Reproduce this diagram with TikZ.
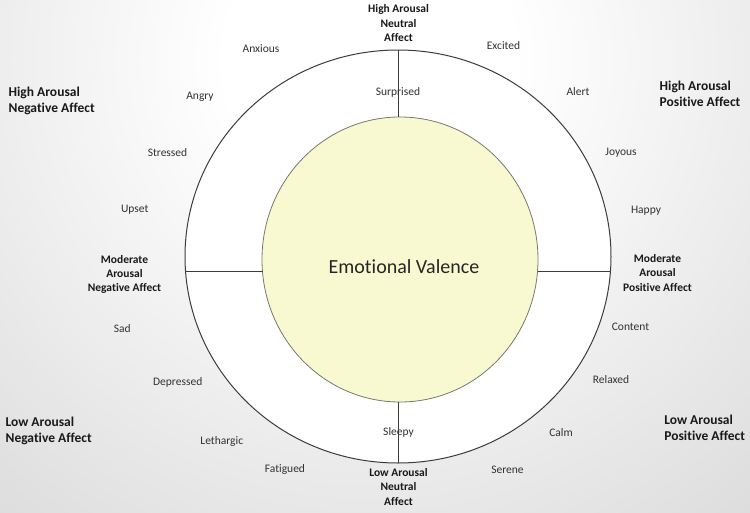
\documentclass[tikz,border=0pt]{standalone}
\usepackage{fontspec}
\setmainfont{Carlito}[Ligatures={NoCommon,NoContextual}]
\usetikzlibrary{shapes.geometric}
\definecolor{ringline}{RGB}{60,60,60}
\definecolor{innerline}{RGB}{120,120,110}
\definecolor{innerfill}{RGB}{248,249,208}
\definecolor{wordcol}{RGB}{50,50,50}
\definecolor{bgedge}{RGB}{200,200,200}
\pgfdeclareradialshading{bgshade}{\pgfpoint{0bp}{0bp}}{color(0bp)=(white); color(6bp)=(white); color(36bp)=(bgedge); color(50bp)=(bgedge)}
\tikzset{
  word/.style={inner sep=0pt, text=wordcol, font=\fontsize{11.5}{13.8}\selectfont},
  midlabel/.style={inner sep=0pt, align=center, text=black!90, font=\bfseries\fontsize{11.5}{14.3}\selectfont},
  cornerlabel/.style={inner sep=0pt, align=left, text=black!90, font=\bfseries\fontsize{13.5}{16.2}\selectfont},
  divider/.style={draw=ringline, line width=1.1pt},
}
\begin{document}
\begin{tikzpicture}[x=1pt,y=-1pt]
\useasboundingbox (0,0) rectangle (750,512);
\begin{scope}
\clip (0,0) rectangle (750,512);
\shade[shading=bgshade] (370,60) circle (600);
\end{scope}
% rings
\node[ellipse, draw=ringline, line width=1pt, fill=white, minimum width=426pt, minimum height=413pt, inner sep=0pt] (outer) at (398,256.5) {};
\node[ellipse, draw=innerline, line width=0.8pt, fill=innerfill, minimum width=276pt, minimum height=285pt, inner sep=0pt] (inner) at (400,259.5) {};
% divider end points
\coordinate (ta) at (398.7,50);
\coordinate (tb) at (398.7,117);
\coordinate (ba) at (398.7,402);
\coordinate (bb) at (398.7,463);
\coordinate (la) at (185.6,271.7);
\coordinate (lb) at (262.5,271.7);
\coordinate (ra) at (537.5,271.7);
\coordinate (rb) at (610.4,271.7);
\draw[divider] (ta) -- (tb);
\draw[divider] (ba) -- (bb);
\draw[divider] (la) -- (lb);
\draw[divider] (ra) -- (rb);
% center text
\node[inner sep=0pt, text=black!85, font=\fontsize{20}{24}\selectfont] (valence) at (404,267) {Emotional Valence};
% emotion words
\node[word] (surprised) at (398,92.7) {Surprised};
\node[word] (sleepy) at (398.5,432.7) {Sleepy};
\node[word] (excited) at (503.5,45.3) {Excited};
\node[word] (alert) at (578,91.3) {Alert};
\node[word] (joyous) at (621,152.7) {Joyous};
\node[word] (happy) at (646,211) {Happy};
\node[word] (content) at (630.5,326.7) {Content};
\node[word] (relaxed) at (611,380) {Relaxed};
\node[word] (calm) at (561,432.7) {Calm};
\node[word] (serene) at (507.5,469.7) {Serene};
\node[word] (anxious) at (261,49) {Anxious};
\node[word] (angry) at (200,96.3) {Angry};
\node[word] (stressed) at (167.5,152.3) {Stressed};
\node[word] (upset) at (134.7,209.3) {Upset};
\node[word] (sad) at (122.3,328.3) {Sad};
\node[word] (depressed) at (177.7,382) {Depressed};
\node[word] (lethargic) at (221.8,441.3) {Lethargic};
\node[word] (fatigued) at (285,469.7) {Fatigued};
% region labels
\node[midlabel] (hanl) at (398.5,23.3) {High Arousal\\Neutral\\Affect};
\node[midlabel] (lanl) at (398.5,486.9) {Low Arousal\\Neutral\\Affect};
\node[midlabel] (manl) at (124.5,274.3) {Moderate\\Arousal\\Negative Affect};
\node[midlabel] (mapl) at (657.5,272.8) {Moderate\\Arousal\\Positive Affect};
\node[cornerlabel] (hangl) at (51.7,100.7) {High Arousal\\Negative Affect};
\node[cornerlabel] (hapl) at (700,93.9) {High Arousal\\Positive Affect};
\node[cornerlabel] (langl) at (48.7,430.9) {Low Arousal\\Negative Affect};
\node[cornerlabel] (lapl) at (704.7,427.5) {Low Arousal\\Positive Affect};
\end{tikzpicture}
\end{document}
